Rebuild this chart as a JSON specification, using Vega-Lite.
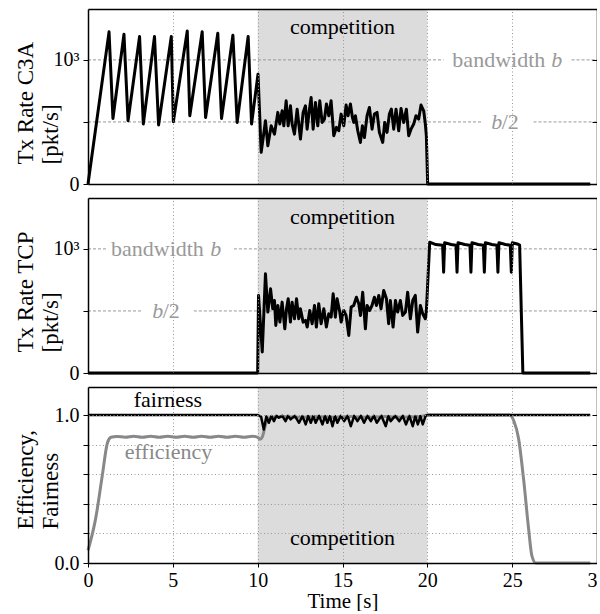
{
  "$schema": "https://vega.github.io/schema/vega-lite/v6.json",
  "padding": {"left": 13, "top": 9, "right": -10, "bottom": 0},
  "spacing": 14,
  "bounds": "flush",
  "config": {
    "font": "Liberation Serif",
    "view": {"stroke": null},
    "axis": {"labelFont": "Liberation Serif", "titleFont": "Liberation Serif", "labelFontSize": 20, "titleFontSize": 23, "titleFontWeight": "normal", "labelColor": "black", "titleColor": "black", "domainColor": "black", "domainWidth": 1.5, "tickColor": "black", "tickWidth": 1, "gridColor": "#999999", "gridDash": [1, 2.5], "gridWidth": 1, "labelFlush": false}
  },
  "datasets": {
    "c3a": [
      {"t": 0, "v": 0}, {"t": 1.24, "v": 1226}, {"t": 1.47, "v": 528}, {"t": 2.12, "v": 1207}, {"t": 2.36, "v": 510}, {"t": 3.04, "v": 1188}, {"t": 3.26, "v": 483}, {"t": 3.92, "v": 1188}, {"t": 4.16, "v": 475}, {"t": 4.91, "v": 1188}, {"t": 5.03, "v": 501}, {"t": 5.85, "v": 1233}, {"t": 6.0, "v": 550}, {"t": 6.73, "v": 1226}, {"t": 6.93, "v": 536}, {"t": 7.65, "v": 1215}, {"t": 7.87, "v": 528}, {"t": 8.54, "v": 1199}, {"t": 8.79, "v": 496}, {"t": 9.44, "v": 1188}, {"t": 9.64, "v": 483}, {"t": 10.02, "v": 885},
      {"t": 10.207, "v": 255}, {"t": 10.462, "v": 509}, {"t": 10.599, "v": 308}, {"t": 10.796, "v": 469}, {"t": 10.992, "v": 402}, {"t": 11.188, "v": 577}, {"t": 11.306, "v": 483}, {"t": 11.443, "v": 590}, {"t": 11.541, "v": 469}, {"t": 11.679, "v": 670}, {"t": 11.797, "v": 469}, {"t": 11.934, "v": 630}, {"t": 12.032, "v": 483}, {"t": 12.169, "v": 402}, {"t": 12.327, "v": 603}, {"t": 12.523, "v": 362}, {"t": 12.68, "v": 577}, {"t": 12.817, "v": 630}, {"t": 12.915, "v": 442}, {"t": 13.053, "v": 603}, {"t": 13.151, "v": 697}, {"t": 13.269, "v": 442}, {"t": 13.406, "v": 657}, {"t": 13.543, "v": 469}, {"t": 13.661, "v": 670}, {"t": 13.799, "v": 496}, {"t": 13.936, "v": 523}, {"t": 14.054, "v": 644}, {"t": 14.191, "v": 550}, {"t": 14.328, "v": 670}, {"t": 14.485, "v": 389}, {"t": 14.642, "v": 456}, {"t": 14.78, "v": 429}, {"t": 14.917, "v": 563}, {"t": 15.074, "v": 469}, {"t": 15.212, "v": 636}, {"t": 15.329, "v": 550}, {"t": 15.467, "v": 644}, {"t": 15.585, "v": 536}, {"t": 15.663, "v": 496}, {"t": 15.761, "v": 550}, {"t": 15.899, "v": 429}, {"t": 16.056, "v": 335}, {"t": 16.173, "v": 469}, {"t": 16.291, "v": 375}, {"t": 16.448, "v": 550}, {"t": 16.586, "v": 617}, {"t": 16.743, "v": 442}, {"t": 16.88, "v": 563}, {"t": 17.037, "v": 577}, {"t": 17.174, "v": 416}, {"t": 17.371, "v": 335}, {"t": 17.488, "v": 496}, {"t": 17.626, "v": 416}, {"t": 17.763, "v": 563}, {"t": 17.881, "v": 603}, {"t": 18.018, "v": 442}, {"t": 18.156, "v": 603}, {"t": 18.313, "v": 429}, {"t": 18.45, "v": 609}, {"t": 18.607, "v": 496}, {"t": 18.764, "v": 603}, {"t": 18.902, "v": 389}, {"t": 19.039, "v": 442}, {"t": 19.196, "v": 483}, {"t": 19.333, "v": 550}, {"t": 19.49, "v": 523}, {"t": 19.628, "v": 636}, {"t": 19.785, "v": 590}, {"t": 19.883, "v": 483}, {"t": 19.942, "v": 389},
      {"t": 20.02, "v": 0}, {"t": 29.6, "v": 0}
    ],
    "tcp": [
      {"t": 0, "v": 0}, {"t": 10.0, "v": 0}, {"t": 10.05, "v": 625}, {"t": 10.27, "v": 169}, {"t": 10.46, "v": 799}, {"t": 10.6, "v": 491}, {"t": 10.76, "v": 678}, {"t": 10.89, "v": 517}, {"t": 10.99, "v": 584}, {"t": 11.07, "v": 383}, {"t": 11.19, "v": 544}, {"t": 11.31, "v": 410}, {"t": 11.44, "v": 571}, {"t": 11.6, "v": 356}, {"t": 11.7, "v": 517}, {"t": 11.8, "v": 598}, {"t": 11.93, "v": 410}, {"t": 12.03, "v": 571}, {"t": 12.17, "v": 437}, {"t": 12.29, "v": 598}, {"t": 12.42, "v": 437}, {"t": 12.52, "v": 517}, {"t": 12.68, "v": 410}, {"t": 12.82, "v": 424}, {"t": 12.92, "v": 370}, {"t": 13.07, "v": 504}, {"t": 13.21, "v": 397}, {"t": 13.35, "v": 544}, {"t": 13.46, "v": 370}, {"t": 13.6, "v": 558}, {"t": 13.74, "v": 397}, {"t": 13.9, "v": 517}, {"t": 14.05, "v": 370}, {"t": 14.19, "v": 477}, {"t": 14.33, "v": 450}, {"t": 14.45, "v": 638}, {"t": 14.58, "v": 450}, {"t": 14.68, "v": 598}, {"t": 14.84, "v": 491}, {"t": 14.92, "v": 410}, {"t": 15.07, "v": 504}, {"t": 15.21, "v": 464}, {"t": 15.37, "v": 303}, {"t": 15.51, "v": 531}, {"t": 15.66, "v": 544}, {"t": 15.82, "v": 611}, {"t": 15.96, "v": 558}, {"t": 16.06, "v": 464}, {"t": 16.19, "v": 651}, {"t": 16.35, "v": 356}, {"t": 16.45, "v": 544}, {"t": 16.6, "v": 504}, {"t": 16.74, "v": 544}, {"t": 16.88, "v": 611}, {"t": 17.0, "v": 544}, {"t": 17.14, "v": 625}, {"t": 17.27, "v": 517}, {"t": 17.43, "v": 665}, {"t": 17.59, "v": 598}, {"t": 17.72, "v": 397}, {"t": 17.82, "v": 584}, {"t": 17.98, "v": 370}, {"t": 18.12, "v": 584}, {"t": 18.25, "v": 491}, {"t": 18.41, "v": 584}, {"t": 18.55, "v": 464}, {"t": 18.71, "v": 491}, {"t": 18.84, "v": 651}, {"t": 19.0, "v": 437}, {"t": 19.14, "v": 584}, {"t": 19.29, "v": 625}, {"t": 19.43, "v": 330}, {"t": 19.59, "v": 544}, {"t": 19.73, "v": 477}, {"t": 19.88, "v": 437}, {"t": 19.94, "v": 491},
      {"t": 20.14, "v": 1054}, {"t": 20.5, "v": 1035}, {"t": 20.9, "v": 1030}, {"t": 20.96, "v": 812}, {"t": 21.02, "v": 1050}, {"t": 21.4, "v": 1035}, {"t": 21.69, "v": 1030}, {"t": 21.75, "v": 812}, {"t": 21.81, "v": 1050}, {"t": 22.2, "v": 1035}, {"t": 22.51, "v": 1030}, {"t": 22.57, "v": 812}, {"t": 22.63, "v": 1050}, {"t": 23.0, "v": 1035}, {"t": 23.3, "v": 1030}, {"t": 23.36, "v": 812}, {"t": 23.42, "v": 1050}, {"t": 23.8, "v": 1035}, {"t": 24.1, "v": 1030}, {"t": 24.16, "v": 812}, {"t": 24.22, "v": 1050}, {"t": 24.6, "v": 1035}, {"t": 24.89, "v": 1030}, {"t": 24.95, "v": 812}, {"t": 25.01, "v": 1050}, {"t": 25.3, "v": 1040}, {"t": 25.44, "v": 1030}, {"t": 25.63, "v": 0}, {"t": 29.6, "v": 0}
    ],
    "eff": [
      {"t": 0, "v": 0.085}, {"t": 0.45, "v": 0.3}, {"t": 0.84, "v": 0.59}, {"t": 1.14, "v": 0.81}, {"t": 1.35, "v": 0.85}, {"t": 1.7, "v": 0.856}, {"t": 2.2, "v": 0.85}, {"t": 2.7, "v": 0.857}, {"t": 3.2, "v": 0.85}, {"t": 3.7, "v": 0.857}, {"t": 4.2, "v": 0.85}, {"t": 4.7, "v": 0.857}, {"t": 5.2, "v": 0.85}, {"t": 5.7, "v": 0.857}, {"t": 6.2, "v": 0.85}, {"t": 6.7, "v": 0.857}, {"t": 7.2, "v": 0.85}, {"t": 7.7, "v": 0.857}, {"t": 8.2, "v": 0.85}, {"t": 8.7, "v": 0.857}, {"t": 9.2, "v": 0.85}, {"t": 9.7, "v": 0.857}, {"t": 10.0, "v": 0.85}, {"t": 10.15, "v": 0.837}, {"t": 10.3, "v": 0.86}, {"t": 10.45, "v": 0.93}, {"t": 10.6, "v": 0.975}, {"t": 10.8, "v": 0.985}, {"t": 11.5, "v": 0.99}, {"t": 12.5, "v": 0.985}, {"t": 13.5, "v": 0.99}, {"t": 14.5, "v": 0.985}, {"t": 15.5, "v": 0.99}, {"t": 16.5, "v": 0.985}, {"t": 17.5, "v": 0.99}, {"t": 18.5, "v": 0.985}, {"t": 19.5, "v": 0.99}, {"t": 20.1, "v": 1}, {"t": 24.85, "v": 1}, {"t": 25.1, "v": 0.96}, {"t": 25.38, "v": 0.84}, {"t": 25.67, "v": 0.57}, {"t": 25.97, "v": 0.23}, {"t": 26.16, "v": 0.05}, {"t": 26.4, "v": 0}, {"t": 29.6, "v": 0}
    ],
    "fair": [
      {"t": 0, "v": 1}, {"t": 10, "v": 1}, {"t": 10.2, "v": 0.99}, {"t": 10.36, "v": 0.903}, {"t": 10.51, "v": 0.99}, {"t": 10.66, "v": 0.948}, {"t": 10.81, "v": 0.993}, {"t": 10.96, "v": 0.959}, {"t": 11.1, "v": 0.995}, {"t": 11.25, "v": 0.982}, {"t": 11.45, "v": 0.995}, {"t": 11.64, "v": 0.959}, {"t": 11.79, "v": 0.995}, {"t": 11.94, "v": 0.971}, {"t": 12.19, "v": 0.995}, {"t": 12.44, "v": 0.948}, {"t": 12.64, "v": 0.993}, {"t": 12.83, "v": 0.937}, {"t": 12.98, "v": 0.993}, {"t": 13.13, "v": 0.948}, {"t": 13.28, "v": 0.993}, {"t": 13.42, "v": 0.948}, {"t": 13.62, "v": 0.995}, {"t": 13.82, "v": 0.937}, {"t": 13.97, "v": 0.993}, {"t": 14.11, "v": 0.948}, {"t": 14.26, "v": 0.993}, {"t": 14.41, "v": 0.925}, {"t": 14.56, "v": 0.993}, {"t": 14.7, "v": 0.948}, {"t": 14.9, "v": 0.995}, {"t": 15.1, "v": 0.959}, {"t": 15.3, "v": 0.995}, {"t": 15.49, "v": 0.925}, {"t": 15.69, "v": 0.995}, {"t": 15.88, "v": 0.959}, {"t": 16.08, "v": 0.995}, {"t": 16.27, "v": 0.948}, {"t": 16.47, "v": 0.995}, {"t": 16.67, "v": 0.959}, {"t": 16.85, "v": 0.995}, {"t": 17.02, "v": 0.948}, {"t": 17.29, "v": 0.995}, {"t": 17.55, "v": 0.925}, {"t": 17.7, "v": 0.993}, {"t": 17.84, "v": 0.959}, {"t": 18.1, "v": 0.995}, {"t": 18.35, "v": 0.959}, {"t": 18.55, "v": 0.995}, {"t": 18.74, "v": 0.937}, {"t": 18.94, "v": 0.995}, {"t": 19.14, "v": 0.925}, {"t": 19.29, "v": 0.993}, {"t": 19.44, "v": 0.937}, {"t": 19.59, "v": 0.993}, {"t": 19.73, "v": 0.937}, {"t": 19.9, "v": 0.995}, {"t": 20, "v": 1}, {"t": 29.6, "v": 1}
    ]
  },
  "vconcat": [
    {
      "width": 509, "height": 175,
      "layer": [
        {"data": {"values": [{"a": 10, "b": 20}]}, "mark": {"type": "rect", "color": "#dcdcdc"},
         "encoding": {"x": {"field": "a", "type": "quantitative", "scale": {"domain": [0, 30], "nice": false, "zero": false}, "axis": null}, "x2": {"field": "b"}}},
        {"data": {"values": [{"x1": 0, "x2": 20.96, "y": 1000}, {"x1": 28.5, "x2": 30, "y": 1000}, {"x1": 0, "x2": 23.2, "y": 500}, {"x1": 26.26, "x2": 30, "y": 500}]},
         "mark": {"type": "rule", "color": "#999999", "strokeDash": [3, 2], "strokeWidth": 1},
         "encoding": {
           "x": {"field": "x1", "type": "quantitative", "scale": {"domain": [0, 30], "nice": false, "zero": false}, "axis": {"orient": "top", "values": [5, 10, 15, 20, 25], "labels": false, "ticks": false, "domain": true, "grid": true, "title": null, "zindex": 1}},
           "x2": {"field": "x2"},
           "y": {"field": "y", "type": "quantitative", "scale": {"domain": [0, 1410], "nice": false, "zero": false}, "axis": {"orient": "right", "values": [500, 1000], "labels": false, "ticks": true, "tickSize": -5, "domain": true, "grid": false, "title": null, "zindex": 1}}
         }},
        {"data": {"name": "c3a"}, "mark": {"type": "line", "color": "black", "strokeWidth": 3, "strokeJoin": "round"},
         "encoding": {
           "x": {"field": "t", "type": "quantitative", "scale": {"domain": [0, 30], "nice": false, "zero": false}, "axis": {"orient": "bottom", "values": [5, 10, 15, 20, 25], "labels": false, "ticks": false, "domain": true, "grid": false, "title": null, "zindex": 1}},
           "y": {"field": "v", "type": "quantitative", "scale": {"domain": [0, 1410], "nice": false, "zero": false}, "axis": {"orient": "left", "values": [0, 500, 1000], "labelExpr": "datum.value == 0 ? '0' : (datum.value == 1000 ? '10³' : '')", "grid": false, "domain": true, "ticks": true, "tickSize": 5, "labelPadding": 4, "title": ["Tx Rate C3A", "[pkt/s]"], "titleAnchor": "start", "titleAlign": "left", "titleAngle": 270, "titleBaseline": "alphabetic", "titleX": -56, "titleY": 155, "titleLineHeight": 25, "zindex": 1}}
         }},
        {"data": {"values": [{"t": 26.95, "y": 1000, "label": "bandwidth"}]}, "mark": {"type": "text", "font": "Liberation Serif", "fontSize": 22, "color": "#999999", "align": "right", "baseline": "middle"},
         "encoding": {"x": {"field": "t", "type": "quantitative", "scale": {"domain": [0, 30], "nice": false, "zero": false}, "axis": null}, "y": {"field": "y", "type": "quantitative", "scale": {"domain": [0, 1410], "nice": false, "zero": false}, "axis": null}, "text": {"field": "label"}}},
        {"data": {"values": [{"t": 27.3, "y": 1000, "label": "b"}, {"t": 23.77, "y": 500, "label": "b"}]}, "mark": {"type": "text", "font": "Liberation Serif", "fontSize": 22, "fontStyle": "italic", "color": "#999999", "align": "left", "baseline": "middle"},
         "encoding": {"x": {"field": "t", "type": "quantitative", "scale": {"domain": [0, 30], "nice": false, "zero": false}, "axis": null}, "y": {"field": "y", "type": "quantitative", "scale": {"domain": [0, 1410], "nice": false, "zero": false}, "axis": null}, "text": {"field": "label"}}},
        {"data": {"values": [{"t": 24.38, "y": 500, "label": "/2"}]}, "mark": {"type": "text", "font": "Liberation Serif", "fontSize": 22, "color": "#999999", "align": "left", "baseline": "middle"},
         "encoding": {"x": {"field": "t", "type": "quantitative", "scale": {"domain": [0, 30], "nice": false, "zero": false}, "axis": null}, "y": {"field": "y", "type": "quantitative", "scale": {"domain": [0, 1410], "nice": false, "zero": false}, "axis": null}, "text": {"field": "label"}}},
        {"data": {"values": [{"t": 15, "y": 1205, "label": "competition"}]}, "mark": {"type": "text", "font": "Liberation Serif", "fontSize": 22, "color": "black", "align": "center", "baseline": "alphabetic"},
         "encoding": {"x": {"field": "t", "type": "quantitative", "scale": {"domain": [0, 30], "nice": false, "zero": false}, "axis": null}, "y": {"field": "y", "type": "quantitative", "scale": {"domain": [0, 1410], "nice": false, "zero": false}, "axis": null}, "text": {"field": "label"}}}
      ],
      "resolve": {"axis": {"x": "independent", "y": "independent"}}
    },
    {
      "width": 509, "height": 175,
      "layer": [
        {"data": {"values": [{"a": 10, "b": 20}]}, "mark": {"type": "rect", "color": "#dcdcdc"},
         "encoding": {"x": {"field": "a", "type": "quantitative", "scale": {"domain": [0, 30], "nice": false, "zero": false}, "axis": null}, "x2": {"field": "b"}}},
        {"data": {"values": [{"x1": 0, "x2": 1.06, "y": 1000}, {"x1": 8.6, "x2": 30, "y": 1000}, {"x1": 0, "x2": 3.2, "y": 500}, {"x1": 6.24, "x2": 30, "y": 500}]},
         "mark": {"type": "rule", "color": "#999999", "strokeDash": [3, 2], "strokeWidth": 1},
         "encoding": {
           "x": {"field": "x1", "type": "quantitative", "scale": {"domain": [0, 30], "nice": false, "zero": false}, "axis": {"orient": "top", "values": [5, 10, 15, 20, 25], "labels": false, "ticks": false, "domain": true, "grid": true, "title": null, "zindex": 1}},
           "x2": {"field": "x2"},
           "y": {"field": "y", "type": "quantitative", "scale": {"domain": [0, 1410], "nice": false, "zero": false}, "axis": {"orient": "right", "values": [500, 1000], "labels": false, "ticks": true, "tickSize": -5, "domain": true, "grid": false, "title": null, "zindex": 1}}
         }},
        {"data": {"name": "tcp"}, "mark": {"type": "line", "color": "black", "strokeWidth": 3, "strokeJoin": "round"},
         "encoding": {
           "x": {"field": "t", "type": "quantitative", "scale": {"domain": [0, 30], "nice": false, "zero": false}, "axis": {"orient": "bottom", "values": [5, 10, 15, 20, 25], "labels": false, "ticks": false, "domain": true, "grid": false, "title": null, "zindex": 1}},
           "y": {"field": "v", "type": "quantitative", "scale": {"domain": [0, 1410], "nice": false, "zero": false}, "axis": {"orient": "left", "values": [0, 500, 1000], "labelExpr": "datum.value == 0 ? '0' : (datum.value == 1000 ? '10³' : '')", "grid": false, "domain": true, "ticks": true, "tickSize": 5, "labelPadding": 4, "title": ["Tx Rate TCP", "[pkt/s]"], "titleAnchor": "start", "titleAlign": "left", "titleAngle": 270, "titleBaseline": "alphabetic", "titleX": -56, "titleY": 154, "titleLineHeight": 25, "zindex": 1}}
         }},
        {"data": {"values": [{"t": 6.83, "y": 1000, "label": "bandwidth"}]}, "mark": {"type": "text", "font": "Liberation Serif", "fontSize": 22, "color": "#999999", "align": "right", "baseline": "middle"},
         "encoding": {"x": {"field": "t", "type": "quantitative", "scale": {"domain": [0, 30], "nice": false, "zero": false}, "axis": null}, "y": {"field": "y", "type": "quantitative", "scale": {"domain": [0, 1410], "nice": false, "zero": false}, "axis": null}, "text": {"field": "label"}}},
        {"data": {"values": [{"t": 7.2, "y": 1000, "label": "b"}, {"t": 3.79, "y": 500, "label": "b"}]}, "mark": {"type": "text", "font": "Liberation Serif", "fontSize": 22, "fontStyle": "italic", "color": "#999999", "align": "left", "baseline": "middle"},
         "encoding": {"x": {"field": "t", "type": "quantitative", "scale": {"domain": [0, 30], "nice": false, "zero": false}, "axis": null}, "y": {"field": "y", "type": "quantitative", "scale": {"domain": [0, 1410], "nice": false, "zero": false}, "axis": null}, "text": {"field": "label"}}},
        {"data": {"values": [{"t": 4.4, "y": 500, "label": "/2"}]}, "mark": {"type": "text", "font": "Liberation Serif", "fontSize": 22, "color": "#999999", "align": "left", "baseline": "middle"},
         "encoding": {"x": {"field": "t", "type": "quantitative", "scale": {"domain": [0, 30], "nice": false, "zero": false}, "axis": null}, "y": {"field": "y", "type": "quantitative", "scale": {"domain": [0, 1410], "nice": false, "zero": false}, "axis": null}, "text": {"field": "label"}}},
        {"data": {"values": [{"t": 15, "y": 1201, "label": "competition"}]}, "mark": {"type": "text", "font": "Liberation Serif", "fontSize": 22, "color": "black", "align": "center", "baseline": "alphabetic"},
         "encoding": {"x": {"field": "t", "type": "quantitative", "scale": {"domain": [0, 30], "nice": false, "zero": false}, "axis": null}, "y": {"field": "y", "type": "quantitative", "scale": {"domain": [0, 1410], "nice": false, "zero": false}, "axis": null}, "text": {"field": "label"}}}
      ],
      "resolve": {"axis": {"x": "independent", "y": "independent"}}
    },
    {
      "width": 509, "height": 176,
      "layer": [
        {"data": {"values": [{"a": 10, "b": 20}]}, "mark": {"type": "rect", "color": "#dcdcdc"},
         "encoding": {"x": {"field": "a", "type": "quantitative", "scale": {"domain": [0, 30], "nice": false, "zero": false}, "axis": null}, "x2": {"field": "b"}}},
        {"data": {"name": "eff"}, "mark": {"type": "line", "color": "#888888", "strokeWidth": 3, "strokeJoin": "round", "interpolate": "monotone"},
         "encoding": {
           "x": {"field": "t", "type": "quantitative", "scale": {"domain": [0, 30], "nice": false, "zero": false}, "axis": {"orient": "top", "values": [5, 10, 15, 20, 25], "labels": false, "ticks": false, "domain": true, "grid": true, "title": null, "zindex": 1}},
           "y": {"field": "v", "type": "quantitative", "scale": {"domain": [0, 1.19], "nice": false, "zero": false}, "axis": {"orient": "right", "values": [0.2, 0.4, 0.6, 0.8, 1.0], "labels": false, "ticks": true, "tickSize": -5, "domain": true, "grid": true, "title": null, "zindex": 1}}
         }},
        {"data": {"name": "fair"}, "mark": {"type": "line", "color": "black", "strokeWidth": 2.5, "strokeJoin": "round"},
         "encoding": {
           "x": {"field": "t", "type": "quantitative", "scale": {"domain": [0, 30], "nice": false, "zero": false}, "axis": {"orient": "bottom", "values": [0, 5, 10, 15, 20, 25, 30], "labels": true, "labelFlush": false, "ticks": true, "tickSize": 4, "labelPadding": 3, "domain": true, "grid": false, "title": "Time [s]", "titleFontSize": 21, "titlePadding": 0, "zindex": 1}},
           "y": {"field": "v", "type": "quantitative", "scale": {"domain": [0, 1.19], "nice": false, "zero": false}, "axis": {"orient": "left", "values": [0, 0.2, 0.4, 0.6, 0.8, 1], "labelExpr": "datum.value == 0 ? '0.0' : (datum.value == 1 ? '1.0' : '')", "grid": false, "domain": true, "ticks": true, "tickSize": 5, "labelPadding": 4, "title": ["Efficiency,", "Fairness"], "titleAnchor": "start", "titleAlign": "left", "titleAngle": 270, "titleBaseline": "alphabetic", "titleX": -56, "titleY": 142, "titleLineHeight": 25, "zindex": 1}}
         }},
        {"data": {"values": [{"t": 15, "y": 0.119, "label": "competition"}, {"t": 4.71, "y": 1.057, "label": "fairness"}]}, "mark": {"type": "text", "font": "Liberation Serif", "fontSize": 22, "color": "black", "align": "center", "baseline": "alphabetic"},
         "encoding": {"x": {"field": "t", "type": "quantitative", "scale": {"domain": [0, 30], "nice": false, "zero": false}, "axis": null}, "y": {"field": "y", "type": "quantitative", "scale": {"domain": [0, 1.19], "nice": false, "zero": false}, "axis": null}, "text": {"field": "label"}}},
        {"data": {"values": [{"t": 4.74, "y": 0.70, "label": "efficiency"}]}, "mark": {"type": "text", "font": "Liberation Serif", "fontSize": 22, "color": "#888888", "align": "center", "baseline": "alphabetic"},
         "encoding": {"x": {"field": "t", "type": "quantitative", "scale": {"domain": [0, 30], "nice": false, "zero": false}, "axis": null}, "y": {"field": "y", "type": "quantitative", "scale": {"domain": [0, 1.19], "nice": false, "zero": false}, "axis": null}, "text": {"field": "label"}}}
      ],
      "resolve": {"axis": {"x": "independent", "y": "independent"}}
    }
  ]
}
